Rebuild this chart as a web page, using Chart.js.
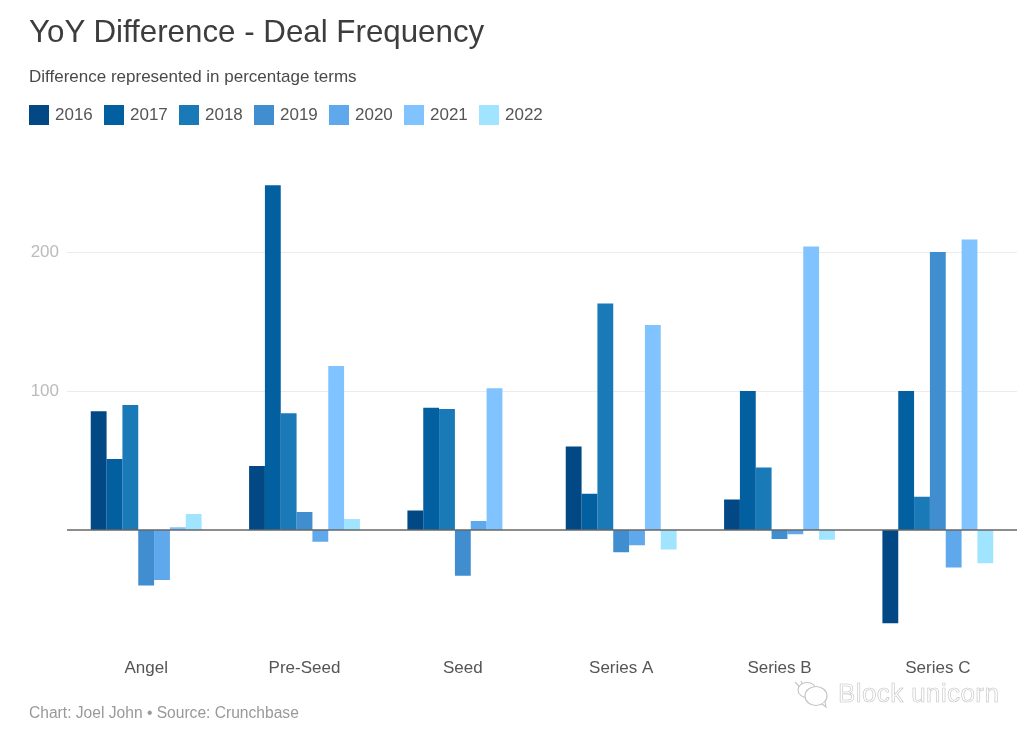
<!DOCTYPE html>
<html>
<head>
<meta charset="utf-8">
<script src="https://cdn.jsdelivr.net/npm/chart.js@4"></script>
<style>
  html, body { margin: 0; padding: 0; background: #fff; }
  body { width: 1036px; height: 737px; position: relative; overflow: hidden; font-family: "Liberation Sans", Arial, sans-serif; }
  #chart { position: absolute; left: 0; top: 0; }
  .txt { position: absolute; white-space: nowrap; line-height: 1; }
  #title { left: 29px; top: 16px; font-size: 31.3px; color: #3d3d3d; }
  #subtitle { left: 29px; top: 68px; font-size: 17px; color: #4a4a4a; }
  #footer { left: 29px; top: 705px; font-size: 15.6px; color: #999; }
  #mark { left: 838px; top: 680px; font-size: 26px; color: #fff; -webkit-text-stroke: 0.6px #c4c4c4; letter-spacing: 0.4px; }
  #markIcon { position: absolute; left: 793px; top: 680px; }
  .swatch { position: absolute; top: 105px; width: 20px; height: 20px; }
  .lbl { position: absolute; top: 106px; font-size: 17px; color: #555; line-height: 18px; }
</style>
</head>
<body>
<canvas id="chart" width="1036" height="737"></canvas>
<div class="txt" id="title">YoY Difference - Deal Frequency</div>
<div class="txt" id="subtitle">Difference represented in percentage terms</div>
<div id="legend"></div>
<div class="txt" id="footer">Chart: Joel John • Source: Crunchbase</div>
<svg id="markIcon" width="40" height="28" viewBox="0 0 40 28" fill="#fff" stroke="#c4c4c4" stroke-width="1.1">
  <path d="M2 2 C6 6 8 8 10 12 M8 1 L11 8"/>
  <ellipse cx="14" cy="10" rx="9" ry="7.5"/>
  <ellipse cx="23" cy="16" rx="11" ry="9.5"/>
  <path d="M29 24 L33 27 L32 22"/>
</svg>
<div class="txt" id="mark">Block unicorn</div>
<script>
const categories = ['Angel', 'Pre-Seed', 'Seed', 'Series A', 'Series B', 'Series C'];
const years  = ['2016', '2017', '2018', '2019', '2020', '2021', '2022'];
const colors = ['#014885', '#0260a0', '#1a7ab8', '#408ecf', '#5fa8eb', '#80c3ff', '#a0e4ff'];

const v2016 = [85.5, 46, 14, 60, 22, -67];
const v2017 = [51, 248, 88, 26, 100, 100];
const v2018 = [90, 84, 87, 163, 45, 24];
const v2019 = [-40, 13, -33, -16, -6.5, 200];
const v2020 = [-36, -8.5, 6.5, -11, -3, -27];
const v2021 = [2, 118, 102, 147.5, 204, 209];
const v2022 = [11.5, 8, 0, -14, -7, -24];
const seriesValues = [v2016, v2017, v2018, v2019, v2020, v2021, v2022];

const yTicks = [100, 200];
const baselineValue = 0;

// legend is plain html so the swatches land where the original has them
const legend = document.getElementById('legend');
years.forEach((y, i) => {
  const left = 29 + i * 75;
  legend.insertAdjacentHTML('beforeend',
    `<div class="swatch" style="left:${left}px;background:${colors[i]}"></div>` +
    `<div class="lbl" style="left:${left + 26}px">${y}</div>`);
});

// the zero line sits on top of the bars, the other gridlines go behind them
const baseline = {
  id: 'baseline',
  afterDatasetsDraw(chart) {
    const { ctx, chartArea, scales } = chart;
    const y = scales.y.getPixelForValue(baselineValue);
    ctx.save();
    ctx.strokeStyle = '#666';
    ctx.lineWidth = 1.5;
    ctx.beginPath();
    ctx.moveTo(chartArea.left, y);
    ctx.lineTo(chartArea.right, y);
    ctx.stroke();
    ctx.restore();
  },
};

new Chart(document.getElementById('chart'), {
  type: 'bar',
  plugins: [baseline],
  data: {
    labels: categories,
    datasets: years.map((y, i) => ({
      label: y,
      data: seriesValues[i],
      backgroundColor: colors[i],
      borderWidth: 0,
      categoryPercentage: 0.7,
      barPercentage: 1,
    })),
  },
  options: {
    responsive: false,
    animation: false,
    devicePixelRatio: 1,
    layout: { padding: { top: 168.6, right: 19, left: 0, bottom: 0 } },
    plugins: { legend: { display: false }, title: { display: false }, tooltip: { enabled: false } },
    scales: {
      x: {
        grid: { display: false },
        border: { display: false },
        ticks: { color: '#555', font: { size: 17, family: '"Liberation Sans"' }, padding: 9, maxRotation: 0 },
        afterFit: s => { s.height = 737 - 641.2; },
      },
      y: {
        min: -80,
        max: 260,
        afterBuildTicks: s => { s.ticks = yTicks.map(value => ({ value })); },
        grid: { color: '#ececec', lineWidth: 1, drawTicks: false },
        border: { display: false },
        ticks: {
          color: '#bbb',
          font: { size: 17, family: '"Liberation Sans"' },
          padding: 8,
        },
        afterFit: s => { s.width = 67; },
      },
    },
  },
});
</script>
</body>
</html>
